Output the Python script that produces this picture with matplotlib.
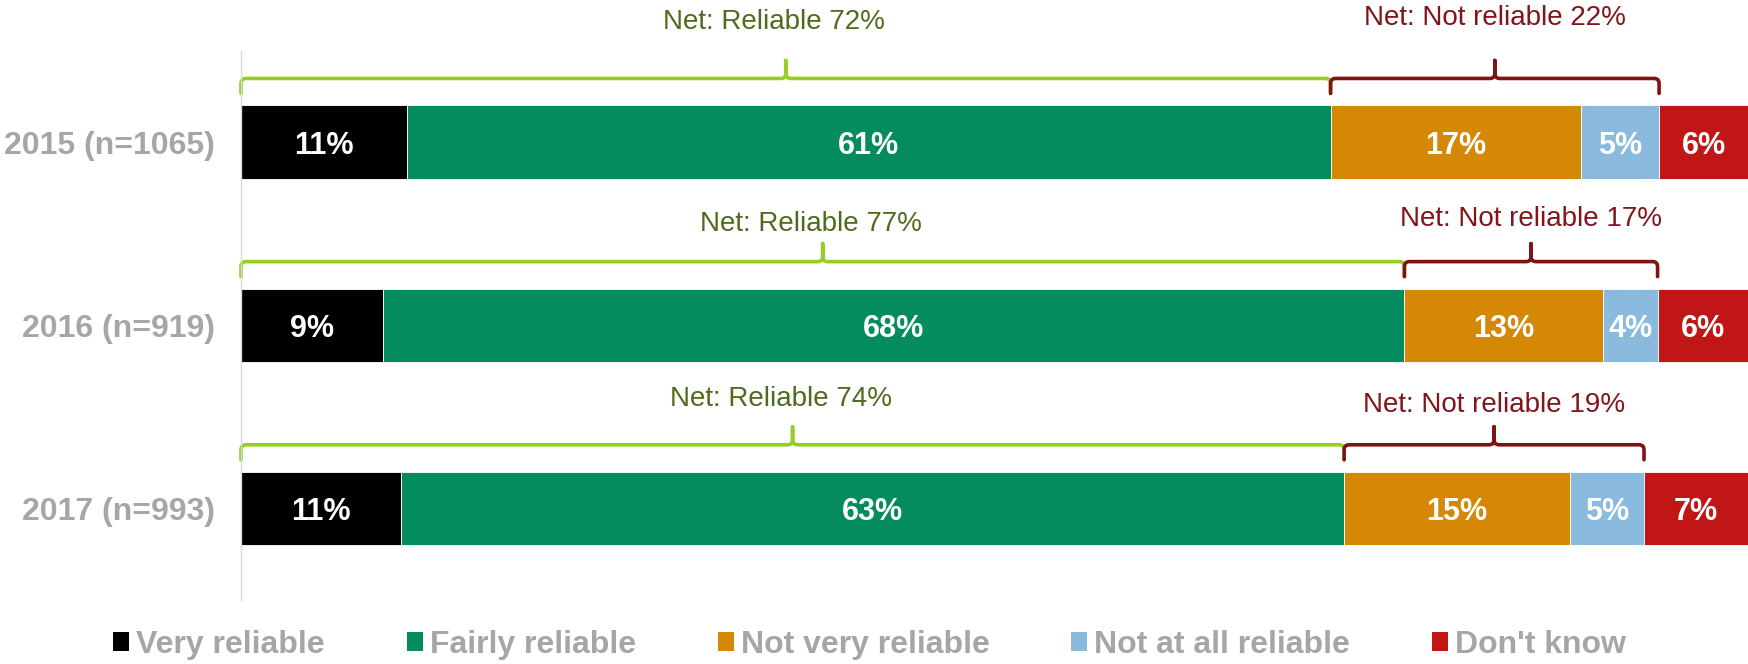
import matplotlib
matplotlib.use('Agg')
import matplotlib.pyplot as plt
from matplotlib.path import Path
from matplotlib.patches import PathPatch, Patch

# ---- data ----
years = ['2015 (n=1065)', '2016 (n=919)', '2017 (n=993)']
categories = ['Very reliable', 'Fairly reliable', 'Not very reliable',
              'Not at all reliable', "Don't know"]
very_reliable = [11.0, 9.4, 10.6]
fairly_reliable = [61.3, 67.8, 62.6]
not_very_reliable = [16.6, 13.2, 15.0]
not_at_all_reliable = [5.2, 3.6, 4.9]
dont_know = [5.9, 6.0, 6.9]
net_reliable = [72, 77, 74]
net_not_reliable = [22, 17, 19]

colors = ['#000000', '#048B5E', '#D58706', '#8ABADE', '#C01616']
green_brace = '#95CF22'
green_text = '#4F6B1E'
red_brace = '#7F1414'
red_text = '#80161B'
gray = '#A6A6A6'

plt.rcParams['font.family'] = ['Liberation Sans', 'DejaVu Sans']

W, H = 1748, 664
fig = plt.figure(figsize=(W / 100, H / 100), dpi=100)
ax_left, ax_right, ax_top, ax_bottom = 241, 1748, 50.5, 600
ax = fig.add_axes([ax_left / W, 1 - ax_bottom / H, (ax_right - ax_left) / W,
                   (ax_bottom - ax_top) / H])
pxx = (ax_right - ax_left) / 100.0
pxy = (ax_bottom - ax_top) / 3.0

series = [very_reliable, fairly_reliable, not_very_reliable,
          not_at_all_reliable, dont_know]
ypos = list(range(len(years)))
bar_h = 0.4
left = [0.0] * len(years)
for vals, col, name in zip(series, colors, categories):
    bars = ax.barh(ypos, vals, left=left, height=bar_h, color=col,
                   edgecolor='white', linewidth=0.6, label=name)
    for i, b in enumerate(bars):
        ax.text(b.get_x() + b.get_width() / 2, b.get_y() + b.get_height() / 2,
                f"{vals[i]:.0f}%", ha='center', va='center_baseline',
                color='white', fontsize=22, fontweight='bold')
    left = [l + v for l, v in zip(left, vals)]


def brace(x0, x1, yc, color, L=27, Hk=15, K=18, r=5):
    top = yc - bar_h / 2

    def P(x, up, dx=0.0):
        return (x + dx / pxx, top - up / pxy)
    xm = (x0 + x1) / 2
    verts = [P(x0, L - Hk), P(x0, L - r), P(x0, L), P(x0, L, r),
             P(xm, L, -r), P(xm, L), P(xm, L + r), P(xm, L + K),
             P(xm, L + K), P(xm, L + r), P(xm, L), P(xm, L, r),
             P(x1, L, -r), P(x1, L), P(x1, L - r), P(x1, L - Hk)]
    codes = [Path.MOVETO, Path.LINETO, Path.CURVE3, Path.CURVE3,
             Path.LINETO, Path.CURVE3, Path.CURVE3, Path.LINETO,
             Path.MOVETO, Path.LINETO, Path.CURVE3, Path.CURVE3,
             Path.LINETO, Path.CURVE3, Path.CURVE3, Path.LINETO]
    ax.add_patch(PathPatch(Path(verts, codes), fill=False, edgecolor=color,
                           lw=2.6, capstyle='round', joinstyle='round',
                           clip_on=False))
    return xm


green_off = [76, 58, 66]
red_off = [80, 63, 60]
for i in ypos:
    r_end = very_reliable[i] + fairly_reliable[i]
    n_end = r_end + not_very_reliable[i] + not_at_all_reliable[i]
    xm = brace(0, r_end, i, green_brace)
    ax.text(xm - 12 / pxx, i - bar_h / 2 - green_off[i] / pxy,
            f"Net: Reliable {net_reliable[i]}%", ha='center', va='baseline',
            color=green_text, fontsize=20, clip_on=False)
    xm = brace(r_end, n_end, i, red_brace)
    ax.text(xm, i - bar_h / 2 - red_off[i] / pxy,
            f"Net: Not reliable {net_not_reliable[i]}%", ha='center',
            va='baseline', color=red_text, fontsize=20, clip_on=False)

ax.set_xlim(0, 100)
ax.set_ylim(2.5, -0.5)
ax.set_yticks(ypos)
ax.set_yticklabels(years, fontsize=23, fontweight='bold', color=gray)
ax.tick_params(axis='y', length=0, pad=19)
ax.set_xticks([])
for s in ['top', 'right', 'bottom']:
    ax.spines[s].set_visible(False)
ax.spines['left'].set_color('#D9D9D9')
ax.spines['left'].set_linewidth(1.0)

handles = [Patch(facecolor=c, edgecolor='none') for c in colors]
fig.legend(handles, categories, loc='center', bbox_to_anchor=(0.4975, 0.0286),
           ncol=5, frameon=False, handlelength=0.5, handleheight=0.55,
           handletextpad=0.22, columnspacing=2.56,
           prop={'size': 23, 'weight': 'bold'}, labelcolor=gray)

fig.savefig('out.png', dpi=100)
